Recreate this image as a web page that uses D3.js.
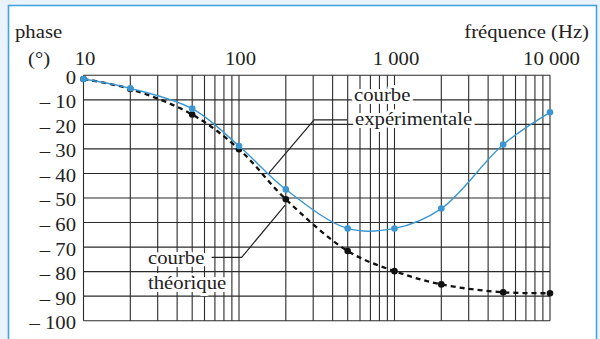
<!DOCTYPE html>
<html>
<head>
<meta charset="utf-8">
<script src="https://cdn.jsdelivr.net/npm/d3@7"></script>
<style>
  html, body { margin: 0; padding: 0; background: #eaf3fb; }
  svg { display: block; }
</style>
</head>
<body>
<svg id="chart" width="600" height="339"></svg>
<script>
// ---- data ----
const frequencies = [10, 20, 50, 100, 200, 500, 1000, 2000, 5000, 10000];
const phaseExperimental = [-1.5, -5.3, -13.6, -28.8, -46.5, -62.4, -62.4, -54.3, -28.2, -15.1];
const phaseTheoretical = [-1.5, -5.6, -16.0, -30.1, -50.5, -71.6, -79.8, -85.2, -88.4, -88.8];
const xTickValues = [10, 100, 1000, 10000];
const xTickLabels = ["10", "100", "1 000", "10 000"];
const yTickValues = [0, -10, -20, -30, -40, -50, -60, -70, -80, -90, -100];
const yTickLabels = ["0", "– 10", "– 20", "– 30", "– 40", "– 50", "– 60", "– 70", "– 80", "– 90", "– 100"];
// annotation leader lines, in data coordinates [frequency, phase]
const leaderExperimental = [[495, -18.2], [304, -18.2], [156, -39.8]];
const leaderTheoretical = [[66.7, -74.2], [104, -74.2], [198, -52.9]];

// ---- pick an installed serif font ----
function pickFont(cands) {
  const c = document.createElement("canvas").getContext("2d");
  const s = "fréquence (Hz) théorique 10 000";
  c.font = "40px monospace"; const wm = c.measureText(s).width;
  c.font = "40px sans-serif"; const ws = c.measureText(s).width;
  for (const f of cands) {
    c.font = `40px "${f}", monospace`; const a = c.measureText(s).width;
    c.font = `40px "${f}", sans-serif`; const b = c.measureText(s).width;
    if (a !== wm || b !== ws) return `"${f}"`;
  }
  return "serif";
}
const FONT = pickFont(["Liberation Serif", "Tinos", "Times New Roman", "Nimbus Roman", "DejaVu Serif", "Noto Serif"]);

// ---- setup ----
const svg = d3.select("#chart");
const SX = 1.12;      // horizontal stretch of lettering
const FS = 18.5;
const blue = "#3a97d2";
const ink = "#222";

const x = d3.scaleLog().domain([10, 10000]).range([83.5, 550]);
const y = d3.scaleLinear().domain([0, -100]).range([75.3, 320.7]);

// panel
svg.append("rect")
  .attr("x", 8.5).attr("y", 5.5).attr("width", 588).attr("height", 345)
  .attr("fill", "#fff").attr("stroke", "#46a3dd").attr("stroke-width", 1.6);

// grid
const gridX = [];
[10, 100, 1000].forEach(dec => { for (let k = 1; k <= 9; k++) gridX.push(dec * k); });
gridX.push(10000);

const grid = svg.append("g").attr("stroke", "#2a2a2a").attr("stroke-width", 1.1);
grid.selectAll("line.v").data(gridX).join("line")
  .attr("x1", d => x(d)).attr("x2", d => x(d))
  .attr("y1", y(0)).attr("y2", y(-100));
grid.selectAll("line.h").data(yTickValues).join("line")
  .attr("x1", x(10)).attr("x2", x(10000))
  .attr("y1", d => y(d)).attr("y2", d => y(d));

function styleText(sel) {
  sel.attr("font-family", FONT).attr("font-size", FS)
    .style("font-family", FONT).style("font-size", FS + "px")
    .attr("fill", ink);
}

// axes labels (tick text only)
const yAxis = svg.append("g").attr("transform", `translate(${x(10)},0)`)
  .call(d3.axisLeft(y).tickValues(yTickValues).tickSize(0).tickPadding(7.5)
    .tickFormat((d, i) => yTickLabels[i]));
yAxis.select(".domain").remove();
yAxis.attr("font-family", null).attr("font-size", null);
yAxis.selectAll("text")
  .attr("x", -7.5 / SX).attr("dy", "0.43em")
  .attr("transform", `scale(${SX},1)`).call(styleText);

const xAxis = svg.append("g").attr("transform", `translate(1,${y(0)})`)
  .call(d3.axisTop(x).tickValues(xTickValues).tickSize(0).tickPadding(10.3)
    .tickFormat((d, i) => xTickLabels[i]));
xAxis.select(".domain").remove();
xAxis.attr("font-family", null).attr("font-size", null);
xAxis.selectAll("text")
  .attr("transform", `scale(${SX},1)`).call(styleText);

function label(txt, px, py, anchor, halo) {
  const t = svg.append("text")
    .attr("transform", `translate(${px},${py}) scale(${SX},1)`)
    .attr("text-anchor", anchor || "start")
    .text(txt).call(styleText);
  if (halo) {
    t.attr("stroke", "#fff").attr("stroke-width", 6).attr("stroke-linejoin", "round")
      .style("paint-order", "stroke");
  }
  return t;
}

label("phase", 15, 38);
label("(°)", 28, 65);
label("fréquence (Hz)", 589, 38, "end");

// leader lines
const leaderLine = d3.line().x(d => x(d[0])).y(d => y(d[1]));
svg.append("path").attr("d", leaderLine(leaderExperimental))
  .attr("fill", "none").attr("stroke", ink).attr("stroke-width", 1.2);
svg.append("path").attr("d", leaderLine(leaderTheoretical))
  .attr("fill", "none").attr("stroke", ink).attr("stroke-width", 1.2);

// annotation texts with white halo
label("courbe", 354, 101, "start", true);
label("expérimentale", 355, 125, "start", true);
label("courbe", 148, 263.5, "start", true);
label("théorique", 148, 288.5, "start", true);

// curves
const thData = frequencies.map((f, i) => [f, phaseTheoretical[i]]);
const exData = frequencies.map((f, i) => [f, phaseExperimental[i]]);
const curve = d3.line().x(d => x(d[0])).y(d => y(d[1])).curve(d3.curveCatmullRom.alpha(0.5));

svg.append("path").attr("d", curve(thData))
  .attr("fill", "none").attr("stroke", "#111").attr("stroke-width", 2.3)
  .attr("stroke-dasharray", "5,4");
svg.selectAll("circle.th").data(thData).join("circle")
  .attr("class", "th")
  .attr("cx", d => x(d[0])).attr("cy", d => y(d[1])).attr("r", 3.3)
  .attr("fill", "#111");

svg.append("path").attr("d", curve(exData))
  .attr("fill", "none").attr("stroke", blue).attr("stroke-width", 1.4);
svg.selectAll("circle.ex").data(exData).join("circle")
  .attr("class", "ex")
  .attr("cx", d => x(d[0])).attr("cy", d => y(d[1])).attr("r", 3.3)
  .attr("fill", blue);
</script>
</body>
</html>
